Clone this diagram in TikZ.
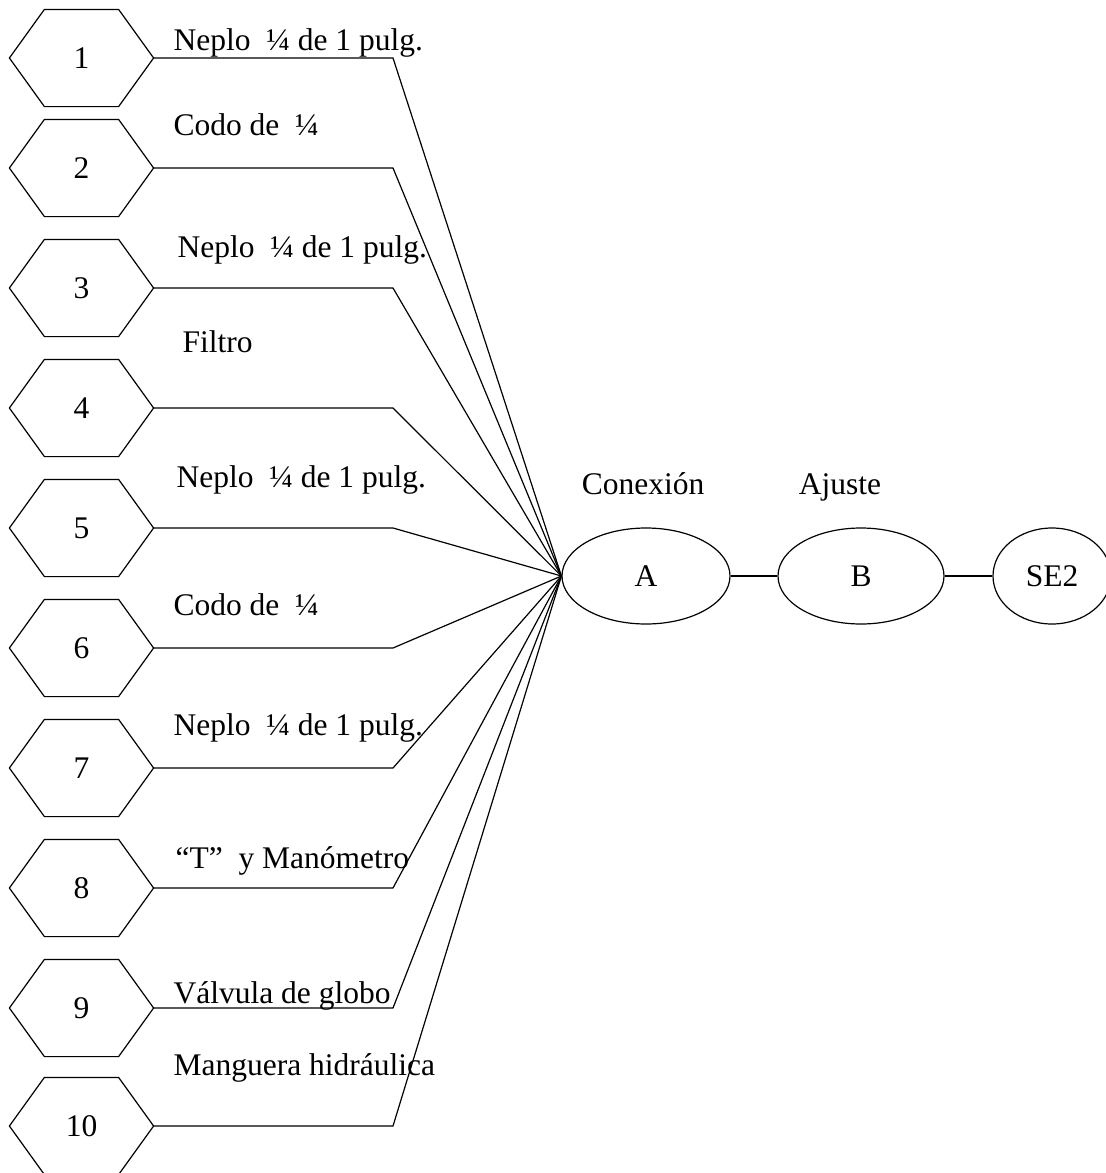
\documentclass[tikz,border=0pt]{standalone}
\usepackage{fontspec}
\setmainfont{Liberation Serif}
\usetikzlibrary{shapes.geometric}
\begin{document}
\begin{tikzpicture}[x=1pt,y=-1pt,line width=1.2pt,
  every node/.style={font=\fontsize{31.5}{36}\selectfont},
  hexnum/.style={minimum width=143pt,minimum height=96pt,inner sep=0pt},
  oval/.style={draw,ellipse,minimum height=96pt,inner sep=0pt},
  tag/.style={anchor=base west,inner sep=0pt}]
	\useasboundingbox(0,0)rectangle(1106,1173);
	% ovalos de la derecha
	\node[oval,minimum width=168pt](A)at(646,576){A};
	\node[oval,minimum width=166pt](B)at(861,576){B};
	\node[oval,minimum width=118pt](SE)at(1052,576){SE2};
	\draw(A)--(B);
	\draw(B)--(SE);
	\node[anchor=base](cA)at(643,494){Conexión};
	\node[anchor=base](cB)at(840,494){Ajuste};
	% hexagonos y piezas
	\foreach\n/\yy/\lx/\ly/\txt in{1/58/173/50/{Neplo~~¼ de 1 pulg.},
		2/168/173/135/{Codo de~~¼},
		3/288/177/257/{Neplo~~¼ de 1 pulg.},
		4/408/182/352/{Filtro},
		5/528/176/487/{Neplo~~¼ de 1 pulg.},
		6/648/173/615/{Codo de~~¼},
		7/768/173/735/{Neplo~~¼ de 1 pulg.},
		8/888/175/868/{“T”~~y Manómetro},
		9/1008/173/1003/{Válvula de globo},
		10/1126/173/1075/{Manguera hidráulica}}{
		\node[hexnum](h\n)at(81.5,\yy){\n};
		\draw(h\n.west)--([xshift=35pt]h\n.north west)--([xshift=-35pt]h\n.north east)
			--(h\n.east)--([xshift=-35pt]h\n.south east)--([xshift=35pt]h\n.south west)--cycle;
		\coordinate(k\n)at(393,\yy);
		\node[tag](t\n)at(\lx,\ly){\txt};
		\draw(h\n.east)--(k\n)--(A.west);
	}
\end{tikzpicture}
\end{document}
